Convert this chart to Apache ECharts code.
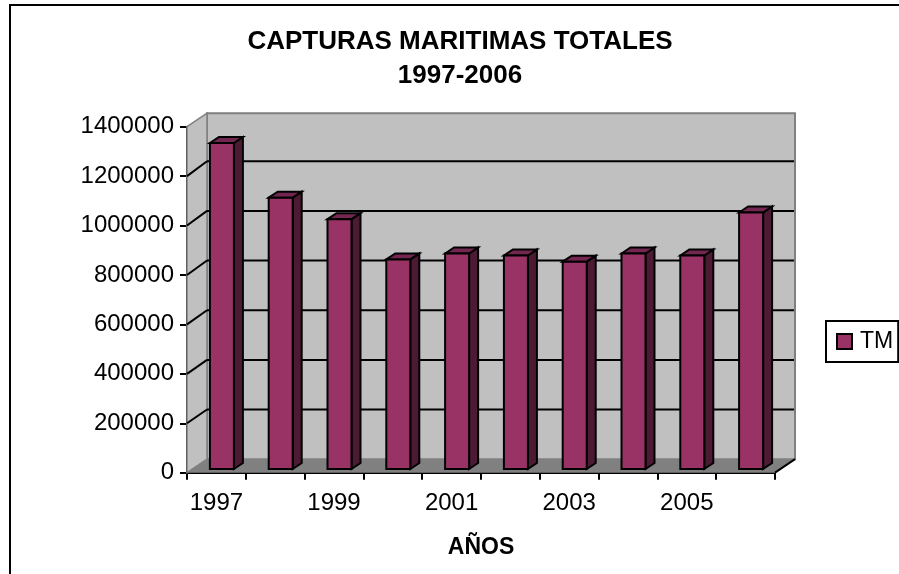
<!DOCTYPE html>
<html>
<head>
<meta charset="utf-8">
<title>Capturas maritimas totales</title>
<style>
html, body { margin: 0; padding: 0; background: #fff; }
#chart { width: 899px; height: 574px; }
</style>
<script src="https://cdn.jsdelivr.net/npm/echarts@6/dist/echarts.min.js"></script>
</head>
<body>
<div id="chart"></div>
<script>
var years = ['1997', '1998', '1999', '2000', '2001', '2002', '2003', '2004', '2005', '2006'];
var toneladas = [1319000, 1098000, 1011000, 848000, 872000, 864000, 839000, 872000, 864000, 1038000];
var yTicks = [0, 200000, 400000, 600000, 800000, 1000000, 1200000, 1400000];

// profundidad del efecto 3D
var wallDx = 20, wallDy = -13.5;
var barDx = 9, barDy = -6;
var barOffDx = 5.5, barOffDy = -3.7;
var barWidth = 24;

var font = 'Liberation Sans';
var chart = echarts.init(document.getElementById('chart'));

function renderWalls(params, api) {
	var n = years.length;
	var band = api.size([1, 0])[0];
	var first = api.coord([0, 0]);
	var bl = [first[0] - band / 2, first[1]];
	var br = [bl[0] + band * n, first[1]];
	var topY = api.coord([0, 1400000])[1];
	var tl = [bl[0], topY];
	var tr = [br[0], topY];
	var kids = [];
	var poly = function(pts, fill, stroke, w) {
		kids.push({
			type: 'polygon',
			shape: { points: pts },
			style: { fill: fill, stroke: stroke || null, lineWidth: w || 0 }
		});
	};
	var line = function(a, b, color, w) {
		kids.push({
			type: 'line',
			shape: { x1: a[0], y1: a[1], x2: b[0], y2: b[1] },
			style: { stroke: color, lineWidth: w, fill: null }
		});
	};
	var back = function(p) { return [p[0] + wallDx, p[1] + wallDy]; };

	poly([back(tl), back(tr), back(br), back(bl)], '#c0c0c0', '#808080', 2);
	poly([tl, back(tl), back(bl), bl], '#c0c0c0', '#808080', 1.5);
	poly([bl, br, back(br), back(bl)], '#808080');

	yTicks.forEach(function(v) {
		if (v === 0 || v === 1400000) {
			return;
		}
		var y = api.coord([0, v])[1];
		// la pared del fondo sale un poco mas alta que el eje
		var by = y + wallDy - 1.4 * v / 1200000;
		var bx = bl[0] + wallDx;
		line([bl[0], y], [bx, by], '#000', 2);
		line([bx, by], [br[0] + wallDx - 1, by], '#000', 2);
	});
	line(br, back(br), '#000', 2);
	return { type: 'group', children: kids };
}

function renderBar(params, api) {
	var top = api.coord([api.value(0), api.value(1)]);
	var base = api.coord([api.value(0), 0]);
	var x0 = top[0] - barWidth / 2 + barOffDx;
	var x1 = x0 + barWidth;
	var y0 = top[1] + barOffDy;
	var y1 = base[1] + barOffDy;
	var edge = { stroke: '#000', lineWidth: 2, lineJoin: 'miter' };
	var face = function(pts, fill) {
		return {
			type: 'polygon',
			shape: { points: pts },
			style: Object.assign({ fill: fill }, edge)
		};
	};
	return {
		type: 'group',
		children: [
			face([[x1, y0], [x1 + barDx, y0 + barDy], [x1 + barDx, y1 + barDy], [x1, y1]], '#4d1a33'),
			face([[x0, y0], [x0 + barDx, y0 + barDy], [x1 + barDx, y0 + barDy], [x1, y0]], '#732650'),
			face([[x0, y0], [x1, y0], [x1, y1], [x0, y1]], '#993366')
		]
	};
}

var option = {
	animation: false,
	backgroundColor: '#fff',
	textStyle: { fontFamily: font },
	title: {
		text: 'CAPTURAS MARITIMAS TOTALES\n1997-2006',
		left: 455,
		top: 20,
		textAlign: 'center',
		textStyle: { fontFamily: font, fontSize: 26, fontWeight: 'bold', color: '#000', lineHeight: 34 }
	},
	legend: {
		data: [{ name: 'TM', icon: 'rect' }],
		left: 826,
		top: 321,
		orient: 'vertical',
		itemWidth: 15,
		itemHeight: 15,
		itemGap: 0,
		padding: [9, 5, 9, 10],
		borderColor: '#000',
		borderWidth: 2,
		selectedMode: false,
		textStyle: { fontFamily: font, fontSize: 23, color: '#000', padding: [0, 0, 0, 3] },
		itemStyle: { color: '#993366', borderColor: '#000', borderWidth: 2 }
	},
	graphic: [{
		type: 'polyline',
		shape: { points: [[10, 574], [10, 5], [899, 5]] },
		style: { stroke: '#000', lineWidth: 2, fill: null },
		silent: true
	}],
	grid: { left: 187, right: 124, top: 126.7, bottom: 101.3, containLabel: false },
	xAxis: {
		type: 'category',
		data: years,
		name: 'AÑOS',
		nameLocation: 'middle',
		nameGap: 63,
		nameTextStyle: { fontFamily: font, fontSize: 23, fontWeight: 'bold', color: '#000' },
		axisLine: { show: true, lineStyle: { color: '#000', width: 2 } },
		axisTick: { show: true, alignWithLabel: false, interval: 0, length: 7, lineStyle: { color: '#000', width: 2 } },
		axisLabel: { interval: 1, fontFamily: font, fontSize: 24, color: '#000', margin: 19 },
		splitLine: { show: false }
	},
	yAxis: {
		type: 'value',
		min: 0,
		max: 1400000,
		interval: 200000,
		axisLine: { show: true, lineStyle: { color: '#000', width: 2 } },
		axisTick: { show: true, length: 7, lineStyle: { color: '#000', width: 2 } },
		axisLabel: {
			fontFamily: font,
			fontSize: 24,
			color: '#000',
			margin: 13,
			formatter: function(v) {
				return String(v);
			}
		},
		splitLine: { show: false }
	},
	series: [{
		name: 'paredes',
		type: 'custom',
		renderItem: renderWalls,
		data: [[0, 0]],
		z: 1,
		silent: true
	}, {
		name: 'TM',
		type: 'custom',
		renderItem: renderBar,
		encode: { x: 0, y: 1 },
		data: years.map(function(y, i) {
			return [i, toneladas[i]];
		}),
		itemStyle: { color: '#993366' },
		z: 2
	}]
};

chart.setOption(option);
</script>
</body>
</html>
